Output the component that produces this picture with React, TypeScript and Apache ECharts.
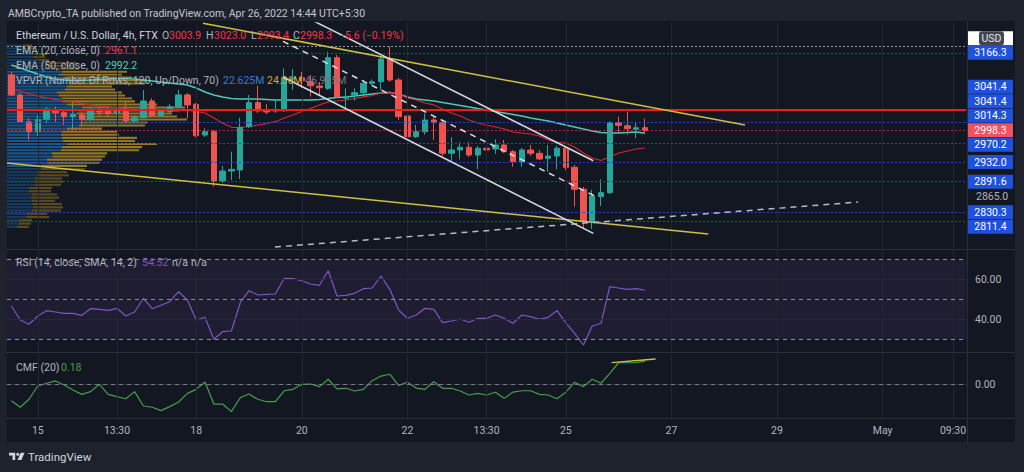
import React, { useEffect, useRef } from "react";
import * as echarts from "echarts";

// ---------------- data ----------------
const OPEN = [3117.4,3073.8,3016.5,2995.3,3021.6,3041.5,3035.7,3027.2,3030.8,3021.6,3041.5,3039.4,3035.1,3040.0,3018.0,3025.0,3060.8,3029.3,3037.9,3048.6,3073.8,3053.7,2988.4,2995.3,2893.2,2913.5,2915.6,3005.9,3057.2,3041.5,3039.4,3041.5,3108.6,3111.4,3102.7,3093.3,3088.3,3155.6,3066.7,3073.8,3078.8,3099.1,3102.7,3152.7,3106.4,3028.6,2984.8,2995.3,3020.1,3015.2,2950.1,2957.0,2962.7,2946.6,2960.6,2959.1,2967.4,2953.4,2932.7,2957.0,2950.1,2939.7,2944.5,2960.6,2921.1,2876.3,2811.3,2861.4,2869.5,3014.3,3007.9,3000.4,3003.9];
const HIGH = [3124.0,3078.1,3024.4,3030.8,3048.6,3048.6,3041.5,3059.3,3037.2,3048.6,3048.0,3045.8,3045.8,3059.3,3030.8,3084.6,3066.7,3043.7,3054.4,3084.6,3078.1,3056.5,3002.5,2998.9,2923.8,2953.4,3025.0,3073.8,3093.9,3054.4,3063.0,3132.2,3130.6,3124.0,3117.4,3102.0,3168.9,3161.6,3088.3,3088.3,3106.4,3108.0,3157.8,3181.0,3110.8,3034.3,3009.5,3034.3,3029.3,3020.1,2983.5,2973.7,2973.7,2965.4,2965.4,2979.4,2977.9,2957.0,2961.2,2967.4,2957.0,2967.4,2965.4,2963.9,2925.9,2881.0,2874.9,2896.6,3016.8,3027.2,3037.9,3014.3,3023.0];
const LOW = [3071.6,3013.7,2977.9,2986.2,3013.7,3013.7,3009.5,2995.3,3009.5,3018.0,3028.6,3026.5,3030.8,3013.7,3015.9,3023.7,3026.5,3026.5,3035.1,3045.8,3023.7,2983.5,2984.2,2881.6,2889.1,2895.2,2897.2,3003.1,3035.1,3032.9,3035.1,3037.2,3084.6,3089.0,3070.2,3073.8,3084.6,3067.3,3045.8,3061.5,3073.8,3095.4,3084.6,3102.7,3020.1,2943.0,2982.1,2989.0,2977.9,2944.5,2934.7,2937.7,2942.4,2917.0,2950.7,2948.7,2950.7,2922.4,2922.4,2944.5,2936.2,2912.1,2917.0,2915.6,2841.3,2798.3,2797.0,2842.7,2866.9,2990.4,2989.0,2981.5,2993.4];
const CLOSE = [3073.8,3016.5,2995.3,3021.6,3043.0,3035.7,3027.2,3031.9,3021.6,3041.5,3037.2,3034.0,3040.4,3018.0,3025.0,3060.8,3029.3,3039.4,3048.6,3073.8,3052.2,2986.8,2995.3,2893.2,2913.5,2917.0,3004.6,3057.2,3039.4,3037.2,3042.6,3111.4,3111.0,3104.9,3093.9,3089.6,3155.6,3070.2,3070.2,3078.8,3099.1,3102.7,3152.7,3106.4,3027.2,2984.8,2995.3,3020.1,3015.2,2950.1,2957.0,2962.7,2946.6,2960.6,2957.0,2967.4,2953.4,2932.7,2957.0,2950.1,2938.3,2944.5,2960.6,2921.1,2876.3,2811.3,2862.8,2869.5,3014.3,3008.8,3001.6,3003.8,2998.3];

const EMA20 = [3086.8,3082.4,3076.0,3071.6,3067.3,3064.1,3060.8,3058.7,3055.5,3052.3,3050.1,3048.0,3045.8,3043.7,3042.6,3042.6,3042.6,3041.5,3041.5,3041.5,3041.5,3038.3,3035.1,3024.4,3013.7,3004.6,3004.2,3006.3,3009.5,3012.6,3016.5,3024.4,3030.8,3038.3,3044.7,3052.3,3058.7,3060.8,3063.0,3066.2,3069.5,3072.7,3078.1,3080.3,3076.0,3067.3,3063.0,3056.5,3052.3,3043.7,3035.1,3028.6,3020.1,3013.7,3009.5,3005.3,3001.0,2994.7,2992.6,2990.5,2986.3,2977.9,2972.7,2971.6,2963.3,2950.7,2940.4,2935.2,2942.4,2950.7,2954.9,2959.1,2961.1];
const EMA50 = [3139.5,3132.8,3126.2,3119.6,3113.0,3108.6,3106.4,3105.3,3105.3,3106.4,3107.5,3108.6,3109.7,3109.7,3108.6,3106.4,3104.2,3102.0,3099.9,3097.7,3095.5,3089.0,3080.3,3073.8,3069.5,3066.2,3065.2,3065.2,3065.2,3064.1,3063.0,3063.0,3063.0,3063.0,3063.0,3064.1,3066.2,3068.4,3069.5,3071.6,3073.8,3076.0,3078.1,3079.2,3076.0,3069.5,3065.2,3063.0,3060.8,3057.6,3054.4,3051.2,3048.0,3044.7,3041.5,3038.3,3035.1,3031.9,3028.6,3024.4,3021.2,3018.0,3013.7,3009.5,3005.3,3001.0,2996.8,2993.6,2992.6,2992.6,2993.6,2994.7,2992.2];

const RSI = [46.65,39.65,37.5,41.65,44.3,43.65,43,43,42,45.3,45,44.5,45.5,41.65,43.65,50.5,45.3,47,48.8,53.8,49.65,39.65,41,30,33.8,34.15,48.3,54.3,52.15,52.5,52.65,60.5,60.3,59.3,57.65,57,64.3,51.65,52,53,55.3,55.65,61.65,55,44.65,40.5,42.15,45.5,45,38.3,39.15,40.15,38.5,40.5,40.5,42.15,40.5,38,42.15,41.3,40,41,44.3,38.3,33,27.15,36.65,38,56.3,55.65,55,55.3,54.52];
const CMF = [-0.127,-0.178,-0.116,-0.013,0.008,0.026,-0.005,-0.044,-0.078,-0.057,0.0,-0.078,-0.096,-0.112,-0.057,-0.168,-0.178,-0.204,-0.173,-0.137,-0.070,-0.039,0.018,-0.153,-0.153,-0.212,-0.104,-0.075,-0.116,-0.135,-0.135,-0.050,-0.039,0.0,0.002,-0.018,0.039,-0.036,-0.031,-0.052,-0.039,0.028,0.064,0.078,-0.008,0.016,-0.029,-0.039,0.02,-0.031,-0.031,-0.052,-0.083,-0.070,-0.083,-0.062,-0.109,-0.060,-0.050,-0.050,-0.078,-0.083,-0.112,-0.062,0.016,-0.018,0.039,0.008,0.085,0.167,0.167,0.167,0.18];

// Volume profile rows, from the top price row down (relative volume units)
const VP_UP = [16,20,18,28,26,30,40,38,42,55,52,58,60,62,60,58,50,52,55,56,60,75,72,70,75,76,75,72,60,55,54,55,56,60,55,54,45,46,40,40,35,34,30,30,28,27,28,22,22,25,24,25,25,26,25,20,20,12,12,10];
const VP_DOWN = [9,8,6,12,12,12,30,30,30,65,63,67,80,76,45,50,65,66,70,72,90,103,100,95,95,104,65,66,35,55,58,75,72,90,80,78,55,52,55,52,45,44,30,32,27,29,26,23,22,25,28,23,30,30,29,20,22,13,12,12];
const VP_HIGH = 3185;
const VP_LOW = 2797;
const VA_HIGH = 3124;
const VA_LOW = 2920;

const SLOTS = 109;
const X_LABELS: [number, string][] = [[3,"15"],[12,"13:30"],[21,"18"],[33,"20"],[45,"22"],[54,"13:30"],[63,"25"],[75,"27"],[87,"29"],[99,"May"],[107,"09:30"]];

const PRICE_MIN = 2759.8;
const PRICE_MAX = 3233.6;
const RSI_MIN = 23.65;
const RSI_MAX = 74.65;
const CMF_MIN = -0.2612;
const CMF_MAX = 0.2426;

const BLUE_LEVELS = [3166.3, 3041.4, 3014.3, 2970.2, 2932.0, 2891.6, 2830.3, 2811.4];
const RESISTANCE = 3041.4;
const LAST_PRICE = 2998.3;
const TOP_LEVEL = 3181.0;
const PRICE_TICK = 2865.0;
const RSI_BANDS = [70, 50, 30];
const RSI_TICKS = [60, 40];
const CMF_TICKS = [0];

// drawings: [slot index, value]
const YELLOW_UPPER = [[21.77, 3232.9], [83.36, 3009.5]];
const YELLOW_LOWER = [[-0.5, 2930.0], [79.19, 2787.1]];
const WHITE_UPPER = [[30.86, 3273.3], [66.13, 2934.7]];
const WHITE_LOWER = [[30.86, 3113.0], [66.13, 2788.5]];
const WHITE_MID = [[30.86, 3192.1], [66.3, 2862.8]];
const SUPPORT_DASH = [[29.95, 2761.8], [96.2, 2850.5]];
const CMF_TREND = [[68.2, 0.168], [73.2, 0.196]];

const FONT = "Roboto, 'Noto Sans', sans-serif";
const GRID_L = 7;
const GRID_W = 959.2;

function buildOption() {
  const cats = Array.from({ length: SLOTS }, (_, i) => String(i));
  const labelMap: Record<number, string> = {};
  X_LABELS.forEach(([i, s]) => (labelMap[i] = s));
  const vGrid = X_LABELS.map(([i]) => ({ xAxis: i, lineStyle: { color: "#22262f", width: 1, type: "solid" } }));
  const candles = OPEN.map((o, i) => [o, CLOSE[i], LOW[i], HIGH[i]]);
  const step = (VP_HIGH - VP_LOW) / VP_UP.length;
  const vpData = VP_UP.map((u, t) => {
    const hi = VP_HIGH - t * step;
    const lo = hi - step;
    const mid = (hi + lo) / 2;
    return [u, lo, VP_DOWN[t], hi, mid <= VA_HIGH && mid >= VA_LOW ? 1 : 0];
  });
  const trend = (data: number[][], color: string, type: any, width = 1.5) => ({
    type: "line", xAxisIndex: 1, yAxisIndex: 0, data, symbol: "none", showSymbol: false,
    lineStyle: { color, width, type }, z: 6, silent: true, clip: true,
  });
  const hidden = { show: false };
  return {
    animation: false,
    backgroundColor: "transparent",
    grid: [
      { left: GRID_L, top: 23, width: GRID_W, height: 225, containLabel: false, outerBoundsMode: "none" },
      { left: GRID_L, top: 23, width: GRID_W, height: 225, containLabel: false, outerBoundsMode: "none" },
      { left: GRID_L, top: 250, width: GRID_W, height: 102, containLabel: false, outerBoundsMode: "none" },
      { left: GRID_L, top: 353, width: GRID_W, height: 65, containLabel: false, outerBoundsMode: "none" },
    ],
    xAxis: [
      { type: "category", gridIndex: 0, data: cats, boundaryGap: true, ...hidden },
      { type: "value", gridIndex: 0, min: -0.5, max: SLOTS - 0.5, ...hidden },
      { type: "value", gridIndex: 1, min: 0, max: GRID_W, ...hidden },
      { type: "category", gridIndex: 2, data: cats, boundaryGap: true, ...hidden },
      {
        type: "category", gridIndex: 3, data: cats, boundaryGap: true,
        axisLine: { show: true, lineStyle: { color: "#2a2e39" } },
        axisTick: { show: false },
        splitLine: { show: false },
        axisLabel: {
          interval: 0, margin: 7, color: "#b2b5be", fontSize: 10.5, fontFamily: FONT,
          formatter: (_v: string, idx: number) => labelMap[idx] || "",
        },
      },
      { type: "value", gridIndex: 3, min: -0.5, max: SLOTS - 0.5, ...hidden },
    ],
    yAxis: [
      { type: "log", logBase: 10, gridIndex: 0, min: PRICE_MIN, max: PRICE_MAX, ...hidden },
      { type: "log", logBase: 10, gridIndex: 1, min: PRICE_MIN, max: PRICE_MAX, ...hidden },
      { type: "value", gridIndex: 2, min: RSI_MIN, max: RSI_MAX, ...hidden },
      { type: "value", gridIndex: 3, min: CMF_MIN, max: CMF_MAX, ...hidden },
    ],
    series: [
      {
        type: "custom", xAxisIndex: 2, yAxisIndex: 1, data: vpData, encode: { x: 0, y: [1, 3] },
        z: 1, silent: true,
        renderItem: (_p: any, api: any) => {
          const up = api.value(0), lo = api.value(1), dn = api.value(2), hi = api.value(3), va = api.value(4);
          const a = api.coord([0, hi]);
          const b = api.coord([up, lo]);
          const c = api.coord([up + dn, lo]);
          const h = Math.max(1, b[1] - a[1] - 1);
          return {
            type: "group",
            children: [
              { type: "rect", shape: { x: a[0], y: a[1], width: b[0] - a[0], height: h },
                style: { fill: va ? "rgba(33,150,243,0.5)" : "rgba(33,150,243,0.28)" } },
              { type: "rect", shape: { x: b[0], y: a[1], width: c[0] - b[0], height: h },
                style: { fill: va ? "rgba(245,190,40,0.58)" : "rgba(245,190,40,0.3)" } },
            ],
          };
        },
      },
      {
        type: "line", name: "EMA50", xAxisIndex: 0, yAxisIndex: 0, data: EMA50, symbol: "none", showSymbol: false,
        lineStyle: { color: "#4dc9b8", width: 1.5 }, z: 3, silent: true,
        markLine: {
          silent: true, symbol: ["none", "none"], label: { show: false }, animation: false,
          data: [
            ...vGrid,
            ...BLUE_LEVELS.map((p) => ({ yAxis: p, lineStyle: { color: "#2148c0", width: 1, type: [2, 2] } })),
            { yAxis: LAST_PRICE, lineStyle: { color: "rgba(242,54,69,0.7)", width: 1, type: [2, 2] } },
            { yAxis: TOP_LEVEL, lineStyle: { color: "#8f929b", width: 1, type: [2, 2] } },
            { yAxis: RESISTANCE, lineStyle: { color: "#f01c1c", width: 2, type: "solid" } },
          ],
        },
      },
      {
        type: "line", name: "EMA20", xAxisIndex: 0, yAxisIndex: 0, data: EMA20, symbol: "none", showSymbol: false,
        lineStyle: { color: "#d9252f", width: 1.2 }, z: 3, silent: true,
      },
      {
        type: "candlestick", xAxisIndex: 0, yAxisIndex: 0, data: candles, barWidth: 6, z: 4, silent: true,
        itemStyle: { color: "#26a69a", color0: "#ef5350", borderColor: "#26a69a", borderColor0: "#ef5350", borderWidth: 1 },
      },
      trend(YELLOW_UPPER, "#cfc043", "solid"),
      trend(YELLOW_LOWER, "#cfc043", "solid"),
      trend(WHITE_UPPER, "#d8dbe2", "solid"),
      trend(WHITE_LOWER, "#d8dbe2", "solid"),
      trend(WHITE_MID, "#d8dbe2", [6, 5]),
      trend(SUPPORT_DASH, "#b8bbc3", [6, 5]),
      {
        type: "line", xAxisIndex: 3, yAxisIndex: 2, data: RSI, symbol: "none", showSymbol: false,
        lineStyle: { color: "#7e57c2", width: 1.2 }, z: 3, silent: true,
        markArea: { silent: true, itemStyle: { color: "rgba(126,87,194,0.1)" }, data: [[{ yAxis: 30 }, { yAxis: 70 }]] },
        markLine: {
          silent: true, symbol: ["none", "none"], label: { show: false }, animation: false,
          data: [
            ...vGrid,
            ...RSI_TICKS.map((v) => ({ yAxis: v, lineStyle: { color: "#2a2838", width: 1, type: "solid" } })),
            ...RSI_BANDS.map((v) => ({ yAxis: v, lineStyle: { color: "#8b8e97", width: 1, type: [4, 4] } })),
          ],
        },
      },
      {
        type: "line", xAxisIndex: 4, yAxisIndex: 3, data: CMF, symbol: "none", showSymbol: false,
        lineStyle: { color: "#43a047", width: 1.2 }, z: 3, silent: true,
        markLine: {
          silent: true, symbol: ["none", "none"], label: { show: false }, animation: false,
          data: [
            ...vGrid,
            ...CMF_TICKS.map((v) => ({ yAxis: v, lineStyle: { color: "#787b86", width: 1, type: [4, 4] } })),
          ],
        },
      },
      {
        type: "line", xAxisIndex: 5, yAxisIndex: 3, data: CMF_TREND, symbol: "none", showSymbol: false,
        lineStyle: { color: "#cfc043", width: 1.5 }, z: 5, silent: true,
      },
    ],
  };
}

const TV_LOGO = "M0 0H6.4V7.6H3.6V2.8H0Z M7.4 1.6a1.6 1.6 0 1 0 3.2 0a1.6 1.6 0 1 0 -3.2 0Z M12 0H16L12.8 7.6H8.8Z";

function txt(x: number, y: number, text: string, fill: string, size = 10.5, align = "left") {
  return {
    type: "text", x, y, z: 100, silent: true,
    style: { text, fill, font: `${size}px ${FONT}`, align, verticalAlign: "middle", textAlign: align, textVerticalAlign: "middle" },
  };
}

function buildGraphic(chart: any) {
  const g: any[] = [];
  const line = (x1: number, y1: number, x2: number, y2: number, stroke = "#2a2e39") => ({
    type: "line", z: 90, silent: true, shape: { x1, y1, x2, y2 }, style: { stroke, lineWidth: 1 },
  });
  // pane separators
  g.push(line(7, 249.5, 1015, 249.5));
  g.push(line(7, 352.5, 1015, 352.5));
  g.push(line(7, 418.5, 1015, 418.5));
  g.push(line(967.5, 21, 967.5, 442));

  // title & legends
  const grey = "#b2b5be";
  const red = "#f23645";
  g.push(txt(8, 13, "AMBCrypto_TA published on TradingView.com, Apr 26, 2022 14:44 UTC+5:30", "#c3c6ce"));
  g.push(txt(16, 35.5, "Ethereum / U.S. Dollar, 4h, FTX", "#d1d4dc"));
  g.push(txt(162, 35.5, "O", grey));
  g.push(txt(169, 35.5, "3003.9", red));
  g.push(txt(206, 35.5, "H", grey));
  g.push(txt(214, 35.5, "3023.0", red));
  g.push(txt(251, 35.5, "L", grey));
  g.push(txt(257, 35.5, "2993.4", red));
  g.push(txt(293, 35.5, "C", grey));
  g.push(txt(300, 35.5, "2998.3", red));
  g.push(txt(339, 35.5, "\u22125.6 (\u22120.19%)", red));
  g.push(txt(16, 50.5, "EMA (20, close, 0)", grey));
  g.push(txt(105, 50.5, "2961.1", red));
  g.push(txt(16, 65.5, "EMA (50, close, 0)", grey));
  g.push(txt(105, 65.5, "2992.2", "#4dd0bd"));
  g.push(txt(16, 80, "VPVR (Number Of Rows, 120, Up/Down, 70)", grey));
  g.push(txt(223, 80, "22.625M", "#2f7fd8"));
  g.push(txt(267, 80, "24.36M", "#d4a72c"));
  g.push(txt(305, 80, "46.985M", "#787b86"));
  g.push(txt(16, 262.5, "RSI (14, close, SMA, 14, 2)", grey));
  g.push(txt(142, 262.5, "54.52", "#7e57c2"));
  g.push(txt(172, 262.5, "n/a", grey));
  g.push(txt(191, 262.5, "n/a", grey));
  g.push(txt(16, 367.5, "CMF (20)", grey));
  g.push(txt(61, 367.5, "0.18", "#43a047"));

  // right scale texts
  RSI_TICKS.forEach((v) => {
    const y = chart.convertToPixel({ yAxisIndex: 2 }, v);
    g.push(txt(975, y, v.toFixed(2), grey, 10.5));
  });
  CMF_TICKS.forEach((v) => {
    const y = chart.convertToPixel({ yAxisIndex: 3 }, v);
    g.push(txt(975, y, v.toFixed(2), grey, 10.5));
  });

  // price labels with stacking around the last price
  const labels = [
    { p: TOP_LEVEL, k: "white" },
    ...BLUE_LEVELS.filter((p) => p > LAST_PRICE).map((p) => ({ p, k: "blue" })),
    { p: RESISTANCE, k: "blue" },
    { p: LAST_PRICE, k: "last" },
    ...BLUE_LEVELS.filter((p) => p < LAST_PRICE && p > PRICE_TICK).map((p) => ({ p, k: "blue" })),
    { p: PRICE_TICK, k: "tick" },
    ...BLUE_LEVELS.filter((p) => p < PRICE_TICK).map((p) => ({ p, k: "blue" })),
  ].sort((a, b) => b.p - a.p);
  const ys = labels.map((l) => chart.convertToPixel({ yAxisIndex: 0 }, l.p));
  const anchor = labels.findIndex((l) => l.k === "last");
  const H = 14.5;
  for (let k = anchor - 1; k >= 0; k--) ys[k] = Math.min(ys[k], ys[k + 1] - H);
  for (let k = anchor + 1; k < labels.length; k++) ys[k] = Math.max(ys[k], ys[k - 1] + H);
  labels.forEach((l, k) => {
    const y = ys[k];
    const text = l.p.toFixed(1);
    if (l.k === "tick") {
      g.push(txt(976, y, text, grey, 10.5));
      return;
    }
    const fill = l.k === "blue" ? "#1f52dc" : l.k === "last" ? "#f0525f" : "#ffffff";
    g.push({ type: "rect", z: 95, silent: true, shape: { x: 968, y: y - 7, width: 45, height: 14 }, style: { fill } });
    if (l.k === "white") {
      // the white level label is covered by the currency badge
      g.push({ type: "rect", z: 110, silent: true, shape: { x: 979, y: y - 7, width: 25, height: 14, r: 3 }, style: { fill: "#434651" } });
      g.push({ ...txt(991.5, y, "USD", "#e0e3eb", 10.5, "center"), z: 111 });
    } else {
      g.push(txt(990.5, y, text, "#ffffff", 10.5, "center"));
    }
  });

  // footer
  g.push({ type: "tvlogo", x: 9, y: 452.7, scaleX: 0.97, scaleY: 0.96, z: 100, silent: true, style: { fill: "#d1d4dc" } });
  g.push(txt(28, 457, "TradingView", "#d1d4dc", 11.5));
  return g;
}

export default function App() {
  const ref = useRef<HTMLDivElement>(null);
  useEffect(() => {
    const el = ref.current;
    if (!el) return;
    echarts.graphic.registerShape("tvlogo", echarts.graphic.extendPath(TV_LOGO, {}));
    const chart = echarts.init(el, null, { renderer: "svg" });
    chart.setOption(buildOption() as any);
    chart.setOption({ graphic: buildGraphic(chart) } as any);
    return () => chart.dispose();
  }, []);
  return (
    <div style={{ position: "fixed", left: 0, top: 0, width: 1024, height: 472, background: "#1e222d", overflow: "hidden" }}>
      <div style={{ position: "absolute", left: 7, top: 21, width: 1008, height: 421, background: "#131722" }} />
      <div ref={ref} style={{ position: "absolute", left: 0, top: 0, width: 1024, height: 472 }} />
    </div>
  );
}
